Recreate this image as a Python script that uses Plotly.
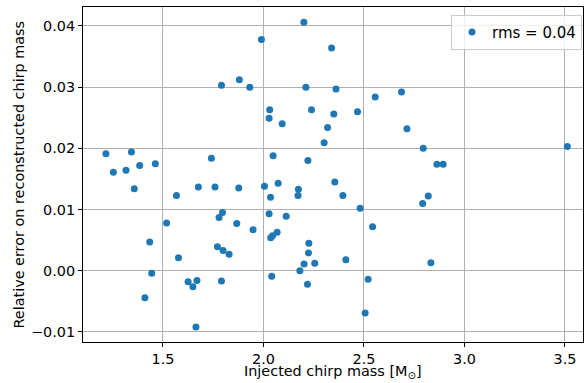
import plotly.graph_objects as go

mass = [1.216, 1.253, 1.316, 1.343, 1.384, 1.462, 1.741, 1.791, 1.880, 2.201,
        1.990, 2.339, 1.932, 2.211, 2.361, 2.556, 2.687, 2.714, 2.031, 2.239,
        2.028, 2.093, 2.350, 2.468, 2.319, 2.302, 2.048, 2.221, 2.795, 2.863,
        2.894, 3.512, 2.792, 2.820, 2.833, 1.357, 1.567, 1.676, 1.759, 1.877,
        1.796, 1.779, 1.867, 1.518, 1.434, 1.771, 1.799, 1.829, 1.577, 1.444,
        1.625, 1.649, 1.669, 1.791, 1.410, 1.664, 2.005, 2.073, 2.035, 2.174,
        2.172, 2.355, 2.395, 2.481, 2.543, 1.948, 2.028, 2.113, 2.068, 2.045,
        2.036, 2.226, 2.224, 2.202, 2.255, 2.410, 2.181, 2.041, 2.219, 2.521,
        2.506]
rel_err = [0.0191, 0.0161, 0.0164, 0.0194, 0.0172, 0.0175, 0.0184, 0.0303, 0.0312, 0.0406,
           0.0378, 0.0364, 0.0300, 0.0300, 0.0297, 0.0284, 0.0292, 0.0232, 0.0263, 0.0263,
           0.0249, 0.0240, 0.0256, 0.0260, 0.0234, 0.0209, 0.0188, 0.0180, 0.0200, 0.0174,
           0.0174, 0.0203, 0.0110, 0.0122, 0.0013, 0.0134, 0.0123, 0.0137, 0.0137, 0.0135,
           0.0095, 0.0087, 0.0077, 0.0078, 0.0047, 0.0039, 0.0033, 0.0027, 0.0021, -0.0004,
           -0.0018, -0.0026, -0.0016, -0.0017, -0.0044, -0.0092, 0.0138, 0.0143, 0.0120, 0.0133,
           0.0123, 0.0145, 0.0123, 0.0102, 0.0072, 0.0067, 0.0093, 0.0089, 0.0063, 0.0057,
           0.0054, 0.0045, 0.0029, 0.0011, 0.0012, 0.0018, -0.0000, -0.0009, -0.0022, -0.0014,
           -0.0069]
x_ticks = [1.5, 2.0, 2.5, 3.0, 3.5]
y_ticks = [-0.01, 0.00, 0.01, 0.02, 0.03, 0.04]
legend_label = "rms = 0.04"
x_title = "Injected chirp mass [M<sub>⊙</sub>]"
y_title = "Relative error on reconstructed chirp mass"

FS = 14.4
FONT = dict(family="DejaVu Sans", size=FS, color="black")

fig = go.Figure()
fig.add_trace(go.Scatter(
    x=mass, y=rel_err, mode="markers", name=legend_label,
    marker=dict(color="#1f77b4", size=7, line=dict(width=0)),
    showlegend=True,
))

axis_common = dict(
    showgrid=True, gridcolor="#b0b0b0", gridwidth=0.8,
    showline=True, linecolor="black", linewidth=1, mirror=True,
    ticks="outside", ticklen=4, tickcolor="black", tickwidth=1,
    zeroline=False, automargin=False,
    tickfont=FONT,
)

fig.update_xaxes(range=[1.102, 3.59], tickvals=x_ticks, tickformat=".1f", **axis_common)
fig.update_yaxes(range=[-0.01165, 0.0431], tickvals=y_ticks, tickformat=".2f", **axis_common)

fig.add_annotation(text=x_title, xref="paper", yref="paper", x=0.5, y=0,
                   xanchor="center", yanchor="bottom", yshift=-40.5,
                   showarrow=False, font=FONT)
fig.add_annotation(text=y_title, xref="paper", yref="paper", x=0, y=0.5,
                   xanchor="center", yanchor="middle", xshift=-65, textangle=-90,
                   showarrow=False, font=FONT)

fig.update_layout(
    width=587, height=383,
    margin=dict(l=83, r=4, t=7, b=41),
    paper_bgcolor="white", plot_bgcolor="white",
    font=FONT,
    legend=dict(
        x=0.998, y=0.977, xanchor="right", yanchor="top",
        bgcolor="rgba(255,255,255,0.8)", bordercolor="#cccccc", borderwidth=1,
        font=dict(family="DejaVu Sans", size=15, color="black"),
    ),
)

fig.write_html("out.html",
               config={"displayModeBar": False},
               post_script="document.body.style.margin='0';document.body.style.overflow='hidden';")
